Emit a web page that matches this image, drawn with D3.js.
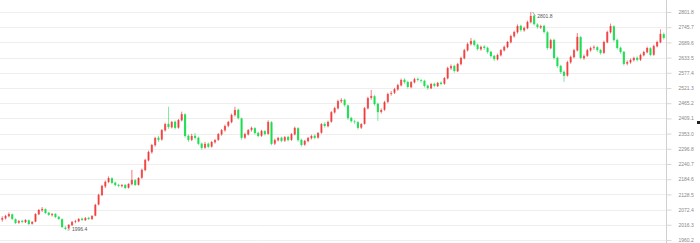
<!DOCTYPE html>
<html><head><meta charset="utf-8">
<script src="https://cdn.jsdelivr.net/npm/d3@7/dist/d3.min.js"></script>
<style>html,body{margin:0;padding:0;background:#fff;overflow:hidden}</style>
</head><body><svg id="c" width="700" height="243"></svg>
<script>
// [open, close, low, high] per trading day
const ohlc = [
[2035,2041,2028,2048],[2040,2049,2036,2053],[2048,2056,2044,2062],[2055,2038,2034,2058],[2037,2023,2019,2040],
[2024,2030,2020,2034],[2031,2027,2022,2035],[2026,2034,2023,2037],[2033,2019,2015,2036],[2020,2027,2017,2030],
[2028,2056,2026,2059],[2055,2071,2052,2075],[2070,2075,2064,2082],[2074,2060,2056,2077],[2061,2053,2049,2064],
[2052,2056,2047,2060],[2057,2045,2041,2059],[2046,2038,2034,2049],[2037,2008,2004,2040],[2006,2001,1996.4,2012],
[2003,2016,2000,2019],[2015,2027,2012,2030],[2028,2030,2022,2035],[2029,2038,2026,2041],[2039,2034,2030,2043],
[2033,2041,2031,2045],[2042,2038,2034,2046],[2037,2049,2035,2052],[2050,2090,2048,2094],[2091,2127,2088,2131],
[2126,2160,2122,2164],[2158,2175,2152,2180],[2174,2189,2170,2195],[2188,2171,2166,2192],[2172,2163,2158,2176],
[2164,2160,2155,2168],[2159,2163,2154,2167],[2164,2152,2148,2166],[2153,2167,2150,2170],[2166,2182,2162,2219],
[2181,2163,2160,2185],[2164,2189,2161,2192],[2190,2219,2186,2224],[2218,2256,2214,2260],[2254,2285,2250,2290],
[2284,2311,2279,2315],[2310,2337,2305,2341],[2338,2330,2322,2345],[2331,2366,2327,2370],[2365,2388,2360,2393],
[2389,2377,2370,2452],[2376,2396,2372,2400],[2397,2374,2368,2401],[2375,2403,2371,2407],[2402,2425,2398,2434],
[2424,2344,2338,2428],[2345,2329,2322,2350],[2330,2344,2325,2352],[2345,2337,2331,2355],[2338,2315,2310,2342],
[2316,2300,2293,2320],[2301,2315,2297,2322],[2316,2304,2299,2320],[2305,2322,2301,2326],[2321,2329,2316,2333],
[2330,2351,2326,2355],[2350,2366,2345,2370],[2365,2381,2360,2386],[2382,2396,2376,2400],[2395,2422,2391,2427],
[2421,2440,2416,2452],[2441,2410,2405,2445],[2409,2337,2330,2412],[2338,2351,2333,2356],[2350,2366,2346,2370],
[2367,2374,2360,2379],[2373,2355,2350,2377],[2356,2344,2339,2360],[2345,2363,2341,2367],[2362,2351,2346,2366],
[2352,2396,2349,2402],[2395,2315,2310,2399],[2316,2329,2311,2334],[2328,2337,2324,2341],[2338,2326,2321,2342],
[2327,2340,2322,2344],[2341,2329,2324,2345],[2330,2351,2326,2355],[2350,2374,2346,2379],[2373,2329,2323,2377],
[2330,2311,2305,2334],[2312,2326,2308,2330],[2325,2337,2321,2341],[2336,2344,2331,2349],[2345,2337,2332,2350],
[2338,2355,2334,2359],[2356,2388,2352,2392],[2389,2381,2375,2395],[2380,2396,2376,2401],[2397,2432,2393,2436],
[2431,2447,2427,2452],[2446,2473,2442,2478],[2472,2477,2466,2484],[2478,2458,2452,2482],[2457,2410,2404,2461],
[2411,2399,2393,2415],[2398,2396,2389,2404],[2395,2374,2368,2399],[2375,2388,2370,2392],[2389,2447,2386,2451],
[2446,2484,2442,2489],[2485,2492,2478,2514],[2491,2462,2456,2496],[2463,2432,2400,2467],[2433,2440,2427,2446],
[2441,2469,2437,2474],[2470,2499,2465,2504],[2500,2503,2493,2510],[2504,2517,2499,2522],[2516,2532,2511,2537],
[2531,2551,2527,2556],[2552,2543,2537,2557],[2544,2525,2519,2548],[2524,2543,2520,2547],[2542,2554,2538,2559],
[2555,2551,2545,2560],[2550,2547,2541,2555],[2548,2529,2523,2552],[2530,2521,2515,2534],[2520,2536,2517,2540],
[2537,2529,2524,2541],[2528,2540,2525,2544],[2541,2536,2531,2546],[2537,2558,2533,2562],[2557,2595,2553,2600],
[2594,2602,2588,2608],[2603,2584,2578,2607],[2583,2610,2580,2614],[2609,2632,2605,2637],[2631,2661,2627,2666],
[2660,2684,2656,2689],[2683,2695,2678,2706],[2696,2680,2674,2700],[2681,2665,2659,2685],[2664,2673,2659,2678],
[2674,2669,2662,2680],[2670,2654,2648,2674],[2655,2639,2633,2658],[2640,2628,2621,2644],[2627,2643,2623,2648],
[2642,2661,2638,2665],[2660,2673,2656,2678],[2672,2691,2668,2695],[2690,2713,2686,2718],[2712,2728,2707,2733],
[2727,2750,2722,2756],[2751,2735,2729,2755],[2734,2743,2729,2748],[2742,2765,2738,2770],[2764,2787,2760,2801.8],
[2788,2757,2752,2792],[2756,2746,2740,2760],[2745,2750,2739,2755],[2751,2728,2722,2755],[2727,2669,2662,2731],
[2668,2698,2664,2703],[2699,2632,2626,2703],[2633,2602,2596,2637],[2603,2580,2573,2607],[2581,2566,2544,2586],
[2567,2617,2563,2622],[2616,2636,2611,2641],[2635,2661,2631,2666],[2660,2710,2656,2724],[2709,2632,2627,2713],
[2631,2639,2625,2645],[2640,2661,2636,2666],[2660,2669,2655,2674],[2670,2673,2662,2679],[2672,2661,2655,2676],
[2662,2650,2644,2666],[2651,2691,2647,2696],[2690,2728,2686,2733],[2727,2750,2722,2759],[2749,2698,2692,2753],
[2699,2669,2663,2703],[2670,2654,2648,2674],[2655,2610,2604,2658],[2611,2617,2605,2623],[2616,2625,2611,2630],
[2624,2632,2619,2637],[2633,2625,2619,2638],[2626,2643,2621,2648],[2642,2654,2638,2659],[2653,2669,2649,2674],
[2668,2643,2638,2672],[2644,2676,2640,2681],[2675,2691,2671,2696],[2690,2721,2686,2738],[2720,2706,2700,2726]
];
const yTicks = [1960.2,2016.3,2072.4,2128.5,2184.6,2240.7,2296.8,2353.0,2409.1,2465.2,2521.3,2577.4,2633.5,2689.6,2745.7,2801.8];
const yDomain = [1960.2, 2801.8];
const markHigh = 2801.8, markLow = 1996.4;

const svg = d3.select('#c');
const W = 700, H = 243;
const plotL = 0, plotR = 666, plotT = 12, plotB = 240;
const x = d3.scaleBand().domain(d3.range(ohlc.length)).range([plotL, plotR]).padding(0.35);
const y = d3.scaleLinear().domain(yDomain).range([plotB, plotT]);

// grid
svg.append('g').selectAll('line').data(yTicks).join('line')
  .attr('x1', plotL).attr('x2', plotR)
  .attr('y1', d => Math.round(y(d)) + 0.5).attr('y2', d => Math.round(y(d)) + 0.5)
  .attr('stroke', '#eeeeee').attr('stroke-width', 1);

// right axis
const axis = d3.axisRight(y).tickValues(yTicks).tickFormat(d3.format('.1f')).tickSize(5).tickPadding(7);
const ag = svg.append('g').attr('transform', `translate(${plotR + 0.5},0)`).call(axis);
ag.select('.domain').attr('stroke', '#d0d0d0').attr('d', `M0,0V${H}`);
ag.selectAll('.tick line').attr('stroke', '#d8d8d8');
ag.selectAll('.tick text').attr('fill', '#888').style('font-family', 'Liberation Sans, Arial, sans-serif').style('font-size', '5px');

const up = '#ec0000', down = '#00da3c';
const g = svg.append('g');
const bw = x.bandwidth();
ohlc.forEach((d, i) => {
  const [o, c, l, h] = d;
  const col = c >= o ? up : down;
  const cx = x(i) + bw / 2;
  g.append('line').attr('x1', cx).attr('x2', cx).attr('y1', y(h)).attr('y2', y(l))
    .attr('stroke', col).attr('stroke-width', 0.7).attr('opacity', 0.75);
  const top = y(Math.max(o, c)), bot = y(Math.min(o, c));
  g.append('rect').attr('x', x(i)).attr('width', bw)
    .attr('y', top).attr('height', Math.max(0.8, bot - top))
    .attr('fill', col).attr('opacity', c >= o ? 0.55 : 0.8);
});

// mark labels
function mark(idx, val, dy) {
  const cx = x(idx) + bw / 2 + 2;
  const cy = y(val);
  svg.append('line').attr('x1', cx).attr('y1', cy).attr('x2', cx + 2.5).attr('y2', cy + dy)
    .attr('stroke', '#777').attr('stroke-width', 0.6);
  svg.append('text').attr('x', cx + 4.5).attr('y', cy + dy).attr('dy', '0.35em')
    .attr('fill', '#555').style('font-family', 'Liberation Sans, Arial, sans-serif').style('font-size', '5px')
    .text(val.toFixed(1));
}
const hiIdx = ohlc.findIndex(d => d[3] === markHigh);
const loIdx = ohlc.findIndex(d => d[2] === markLow);
mark(hiIdx, markHigh, 4);
mark(loIdx, markLow, -0.5);

// small marker at right edge
svg.append('rect').attr('x', 697).attr('y', 121).attr('width', 3).attr('height', 3).attr('fill', '#222');
</script></body></html>
